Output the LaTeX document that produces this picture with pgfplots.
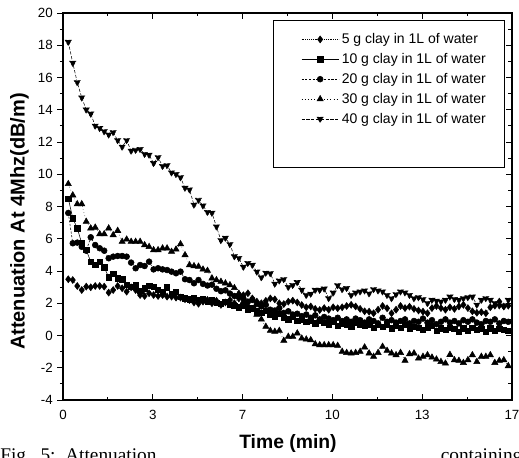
\documentclass[border=0pt]{standalone}
\usepackage{fontspec}
\setmainfont{Liberation Sans}
\newfontfamily\capfont{Liberation Serif}
\usepackage{pgfplots}
\usepackage{pgfplotstable}
\pgfplotsset{compat=1.18}

\pgfplotstableread{
x     s5    s10   s20   s30    s40
0.20  3.49  8.50  7.60  9.40   18.20
0.37  3.44  7.27  5.72  8.70   16.90
0.54  3.07  6.65  5.76  8.15   15.70
0.71  2.82  5.72  5.50  8.15   14.75
0.88  3.03  5.30  5.26  7.06   14.00
1.05  2.99  4.58  6.09  6.65   13.75
1.22  3.07  4.37  5.61  6.70   13.00
1.39  3.07  4.58  5.41  6.29   12.85
1.56  3.03  4.23  5.26  6.29   12.65
1.73  2.66  3.61  4.79  6.65   12.45
1.90  2.82  3.82  4.89  6.23   12.60
2.07  3.07  3.55  4.93  6.50   12.10
2.24  2.93  3.49  4.93  5.82   11.70
2.41  2.72  3.13  4.89  5.96   12.10
2.58  2.99  3.03  4.52  5.82   11.45
2.75  2.82  3.13  4.17  5.82   11.50
2.92  2.51  2.78  4.37  5.82   11.55
3.09  2.45  2.93  4.31  5.61   11.25
3.26  2.62  3.07  4.58  5.50   11.20
3.43  2.51  3.03  4.10  5.30   10.68
3.60  2.45  2.82  4.17  5.30   11.05
3.77  2.51  2.72  4.10  5.41   10.50
3.94  2.41  2.99  4.06  5.41   10.55
4.11  2.41  2.57  3.96  5.20   10.10
4.28  2.35  2.72  3.86  5.34   10.00
4.45  2.35  2.41  3.96  5.67   9.80
4.62  2.25  2.31  3.49  4.99   9.15
4.79  2.20  2.24  3.44  4.37   9.05
4.96  2.05  2.34  3.24  4.31   8.10
5.13  1.97  2.20  3.44  4.28   8.40
5.30  2.10  2.25  3.20  4.10   8.05
5.47  2.20  2.10  3.10  4.02   7.65
5.64  2.00  2.20  3.15  3.55   7.60
5.81  2.15  2.05  2.90  3.44   6.75
5.98  1.90  1.95  2.75  3.34   5.90
6.15  2.05  2.10  2.80  3.24   6.05
6.32  2.20  1.90  2.60  3.13   5.65
6.49  2.00  1.85  2.45  2.95   4.90
6.66  2.30  1.75  2.50  2.60   4.80
6.83  2.50  1.85  2.30  2.10   4.25
7.00  2.62  1.60  2.10  1.85   4.48
7.17  2.30  1.70  2.20  1.60   4.37
7.34  2.10  1.50  1.95  1.30   3.95
7.51  2.00  1.40  1.80  1.00   3.60
7.68  2.15  1.55  1.90  0.55   3.88
7.85  2.30  1.30  1.60  0.30   3.85
8.02  2.24  1.20  1.55  0.24   3.20
8.19  2.00  1.35  1.70  0.30   3.40
8.36  1.95  1.10  1.40  -0.32  3.48
8.53  2.10  1.00  1.50  -0.07  3.00
8.70  2.16  1.15  1.30  -0.07  3.12
8.87  2.05  0.90  1.35  0.14   3.30
9.04  1.89  1.00  1.20  -0.18  2.82
9.21  1.75  0.85  1.30  -0.24  2.50
9.38  1.80  0.95  1.10  -0.28  2.58
9.55  1.65  0.75  1.25  -0.53  2.82
9.72  1.58  0.90  1.00  -0.59  2.82
9.89  1.70  0.80  1.15  -0.59  2.90
10.06 1.60  0.70  1.05  -0.59  2.30
10.23 1.75  0.85  0.95  -0.59  2.65
10.40 1.69  0.60  1.10  -0.63  3.10
10.57 1.75  0.75  0.90  -1.00  2.86
10.74 1.83  0.70  1.00  -1.07  2.93
10.91 1.90  0.55  0.85  -1.10  2.50
11.08 1.80  0.80  1.05  -1.07  2.65
11.25 1.65  0.65  0.95  -1.00  2.72
11.42 1.50  0.60  0.80  -0.73  2.78
11.59 1.48  0.70  1.00  -1.10  2.60
11.76 1.38  0.50  0.90  -1.31  2.86
11.93 1.60  0.65  0.75  -1.07  2.78
12.10 1.83  0.55  1.10  -0.69  2.72
12.27 1.69  0.70  0.85  -0.94  2.50
12.44 1.38  0.45  0.95  -1.10  2.30
12.61 1.60  0.60  0.80  -1.21  2.55
12.78 1.83  0.50  0.90  -1.07  2.72
12.95 1.70  0.65  1.00  -1.56  2.66
13.12 1.79  0.40  0.75  -1.15  2.50
13.29 1.65  0.55  0.90  -1.10  2.30
13.46 1.55  0.50  0.85  -1.42  2.36
13.63 1.48  0.35  1.05  -1.31  2.24
13.80 1.38  0.50  0.80  -1.21  2.00
13.97 1.70  0.60  0.95  -1.36  2.20
14.14 1.83  0.30  0.70  -1.48  2.15
14.31 1.70  0.45  0.85  -1.63  2.10
14.48 1.60  0.35  1.00  -1.73  2.20
14.65 1.75  0.50  0.80  -1.19  2.40
14.82 1.65  0.40  0.90  -1.52  2.25
14.99 1.80  0.25  0.75  -1.56  2.20
15.16 1.90  0.45  0.95  -1.69  2.30
15.33 1.70  0.30  0.85  -1.52  2.36
15.50 1.50  0.50  1.00  -1.21  2.40
15.67 1.41  0.35  0.80  -1.63  1.90
15.84 1.45  0.40  0.70  -1.31  2.20
16.01 1.38  0.25  0.90  -1.31  2.30
16.18 1.75  0.45  0.85  -1.21  2.20
16.35 1.85  0.30  1.00  -1.69  2.00
16.52 2.10  0.40  0.75  -1.56  1.85
16.69 1.80  0.35  0.90  -1.52  1.80
16.86 1.85  0.30  0.85  -1.89  2.20
}\clay

\begin{document}
\begin{tikzpicture}[x=1pt,y=1pt]
\path[use as bounding box] (0,0) rectangle (389.25,343.5);
% caption of the page, cut by the lower edge
\node[anchor=base west,inner sep=0pt,font=\capfont\fontsize{14.5}{16}\selectfont] at (0,-2.5) {Fig.~~5:~~Attenuation};
\node[anchor=base east,inner sep=0pt,font=\capfont\fontsize{14.5}{16}\selectfont] at (392,-2.5) {containing};
\begin{axis}[
  at={(47.25pt,43.5pt)},anchor=south west,
  scale only axis,width=336.75pt,height=290.25pt,
  xmin=0,xmax=17,ymin=-4,ymax=20,
  xtick={0,3.4,6.8,10.2,13.6,17},xticklabels={0,3,7,10,13,17},
  minor x tick num=1,
  ytick={-4,-2,...,20},minor y tick num=1,
  ytick pos=left,yticklabel style={/pgf/number format/assume math mode=true},
  xtick align=inside,ytick align=outside,
  major tick length=4.2pt,minor tick length=2.4pt,
  tick style={black,line width=0.7pt},
  axis line style={line width=0.9pt},
  tick label style={font=\fontsize{10}{12}\selectfont},
  xticklabel style={yshift=-4pt},
  xlabel={Time (min)},ylabel={Attenuation At 4Mhz(dB/m)},
  every axis x label/.style={at={(rel axis cs:0.501,-0.1266)},anchor=base,
    font=\bfseries\fontsize{14.5}{16}\selectfont,fill=white,inner sep=1pt},
  every axis y label/.style={at={(rel axis cs:-0.097,0.461)},anchor=center,rotate=90,
    font=\bfseries\fontsize{15}{17}\selectfont},
  legend cell align=left,
  legend style={draw=none,fill=none,at={(rel axis cs:0.53,0.955)},anchor=north west,
    font=\fontsize{10.5}{12}\selectfont,row sep=1.8pt,inner sep=0pt},
  legend image code/.code={\draw[mark repeat=2,mark phase=2,#1] plot coordinates {(0pt,0pt) (14pt,0pt) (28pt,0pt)};},
  every axis plot/.append style={black,line width=0.4pt,mark options={solid,fill=black}},
]
\draw[line width=0.6pt] (rel axis cs:0.468,0.602) rectangle (rel axis cs:0.984,0.982);
\addplot[densely dotted,mark=diamond*,mark size=2.6pt] table[x=x,y=s5] {\clay};
\addlegendentry{5 g clay in 1L of water}
\addplot[solid,mark=square*,mark size=2pt] table[x=x,y=s10] {\clay};
\addlegendentry{10 g clay in 1L of water}
\addplot[dash pattern=on 1.6pt off 1.2pt,mark=*,mark size=2.2pt] table[x=x,y=s20] {\clay};
\addlegendentry{20 g clay in 1L of water}
\addplot[dotted,mark=triangle*,mark size=2.7pt] table[x=x,y=s30] {\clay};
\addlegendentry{30 g clay in 1L of water}
\addplot[dash pattern=on 2.4pt off 1.2pt,mark=triangle*,mark size=2.7pt,mark options={rotate=180}] table[x=x,y=s40] {\clay};
\addlegendentry{40 g clay in 1L of water}
\end{axis}
\begin{axis}[
  at={(47.25pt,43.5pt)},anchor=south west,
  scale only axis,width=336.75pt,height=290.25pt,
  xmin=0,xmax=17,ymin=-4,ymax=20,
  hide x axis,axis y line*=right,
  ytick={-4,-2,...,20},minor y tick num=1,yticklabels={},
  ytick align=inside,major tick length=4.2pt,minor tick length=3pt,
  tick style={black,line width=0.7pt},axis line style={line width=0.9pt},
]
\end{axis}
\end{tikzpicture}
\end{document}
